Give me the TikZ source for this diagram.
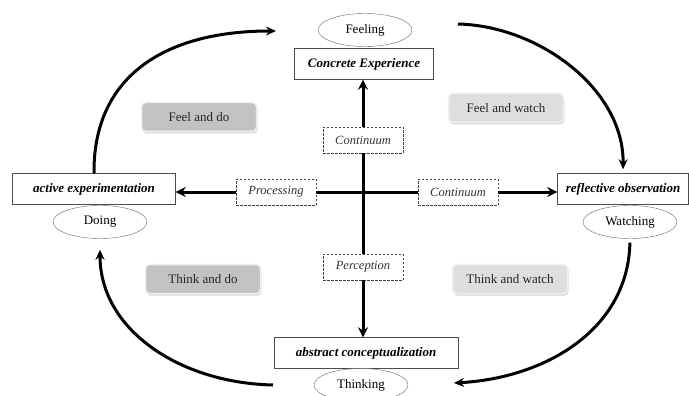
\documentclass[tikz,border=0pt]{standalone}
\usepackage{fontspec}
\setmainfont{Liberation Serif}
\usetikzlibrary{arrows.meta,positioning,shapes.geometric,shadows}

\begin{document}
\begin{tikzpicture}[x=1pt, y=-1pt, font=\fontsize{13}{15}\selectfont,
  stage/.style={draw=black!70, fill=white, minimum height=31pt, font=\fontsize{13}{15}\selectfont\bfseries\itshape},
  mode/.style={ellipse, draw=black!60, fill=white, minimum width=94pt, minimum height=33pt, inner sep=0pt},
  dim/.style={draw=black!75, dash pattern=on 2.5pt off 1.5pt, fill=white, minimum width=80pt, minimum height=26pt, inner sep=0pt, text=black!80, font=\fontsize{12.5}{14}\selectfont\itshape},
  quarter/.style={rounded corners=4pt, draw=black!6, line width=1.5pt, minimum width=115pt, minimum height=29pt, text=black!85, drop shadow={shadow xshift=1pt, shadow yshift=-2pt, opacity=0.3}},
  axisline/.style={line width=3pt, -{Stealth[length=10pt,width=10pt]}},
  turn/.style={line width=3pt, -{Stealth[length=10pt,width=9pt]}}]

\useasboundingbox (0,0) rectangle (689,396);

% the four stages
\node[mode] (feel) at (365,30) {Feeling};
\node[stage, minimum width=139pt] (ce) at (364,64) {Concrete Experience};
\node[stage, minimum width=163pt] (ae) at (94,189) {active experimentation};
\node[mode] (doing) at (100,222) {Doing};
\node[stage, minimum width=131pt] (ro) at (623,189) {reflective observation};
\node[mode] (watch) at (630,222) {Watching};
\node[stage, minimum width=184pt] (ac) at (366,353) {abstract conceptualization};
\node[mode] (think) at (361,385) {Thinking};

% quadrants
\node[quarter, fill=black!24] (fd) at (199,117) {Feel and do};
\node[quarter, fill=black!13] (fw) at (506,108) {Feel and watch};
\node[quarter, fill=black!24] (td) at (203,279) {Think and do};
\node[quarter, fill=black!13] (tw) at (510,279) {Think and watch};

% axes
\node[dim] (cont1) at (363,140) {Continuum};
\node[dim] (perc) at (363,267) {Perception};
\node[dim] (proc) at (276,192) {Processing};
\node[dim] (cont2) at (458,192) {Continuum};

\draw[axisline] (cont1.north) -- (cont1.north |- ce.south);
\draw[line width=3pt] (cont1.south) -- (perc.north);
\draw[axisline] (perc.south) -- (perc.south |- ac.north);
\draw[axisline] (proc.west) -- (proc.west -| ae.east);
\draw[line width=3pt] (proc.east) -- (cont2.west);
\draw[axisline] (cont2.east) -- (cont2.east -| ro.west);

% the cycle
\coordinate (tl) at (276,31);
\coordinate (tr) at (458,24);
\coordinate (br) at (454,383);
\coordinate (bl) at (273,385);

\draw[turn] (ae.north) .. controls (93,80) and (160,31) .. (tl);
\draw[turn, shorten >=4pt] (tr) .. controls (540,26) and (624,90) .. (ro.north);
\draw[turn, shorten <=4pt] (watch.south) .. controls (628,330) and (545,378) .. (br);
\draw[turn, shorten >=11pt] (bl) .. controls (180,383) and (100,330) .. (doing.south);

\end{tikzpicture}
\end{document}
